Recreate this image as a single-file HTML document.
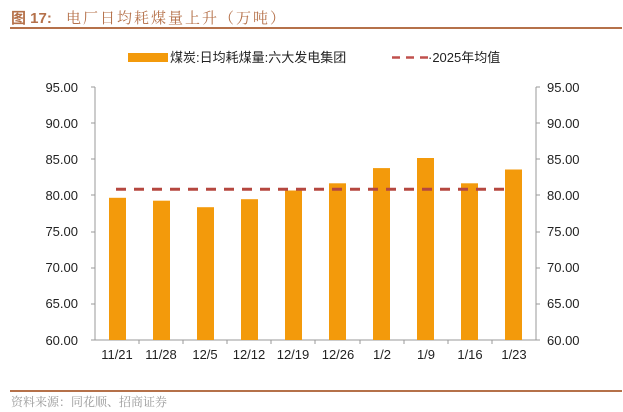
<!DOCTYPE html>
<html><head><meta charset="utf-8"><style>
body{margin:0;background:#fff;}
svg{display:block;font-family:"Liberation Sans","Noto Sans CJK SC",sans-serif;}
</style></head><body>
<svg width="623" height="412" xmlns="http://www.w3.org/2000/svg">
<text x="11" y="23" font-size="15" fill="#b5714a" font-weight="bold" font-family="'Liberation Sans','Noto Sans CJK SC',sans-serif">图 17:</text>
<text x="66" y="23" font-size="15" fill="#b5714a" font-family="'Noto Serif CJK SC','Noto Sans CJK SC',sans-serif" letter-spacing="2">电厂日均耗煤量上升（万吨）</text>
<rect x="10" y="27" width="612" height="2" fill="#b5714a"/>
<rect x="128" y="53" width="40" height="9" fill="#f39a0b"/>
<text x="170" y="62" font-size="13" fill="#222">煤炭:日均耗煤量:六大发电集团</text>
<line x1="392" y1="57.5" x2="428" y2="57.5" stroke="#c0504d" stroke-width="2.5" stroke-dasharray="8,6"/>
<text x="428" y="62" font-size="13" fill="#222">·2025年均值</text>
<g font-size="13" fill="#222" text-anchor="end">
<text x="78" y="92">95.00</text><text x="78" y="128">90.00</text><text x="78" y="164">85.00</text><text x="78" y="200">80.00</text><text x="78" y="236">75.00</text><text x="78" y="272">70.00</text><text x="78" y="308">65.00</text><text x="78" y="345">60.00</text>
</g>
<g font-size="13" fill="#222" text-anchor="start">
<text x="547" y="92">95.00</text><text x="547" y="128">90.00</text><text x="547" y="164">85.00</text><text x="547" y="200">80.00</text><text x="547" y="236">75.00</text><text x="547" y="272">70.00</text><text x="547" y="308">65.00</text><text x="547" y="345">60.00</text>
</g>
<g stroke="#999" stroke-width="1">
<line x1="95" y1="87" x2="95" y2="340"/><line x1="536" y1="87" x2="536" y2="340"/>
<line x1="91" y1="340" x2="540" y2="340"/>
<path d="M91 87H95M91 123H95M91 159H95M91 195H95M91 232H95M91 268H95M91 304H95"/>
<path d="M536 87H540M536 123H540M536 159H540M536 195H540M536 232H540M536 268H540M536 304H540"/>
<path d="M139 340V344M183 340V344M227 340V344M271 340V344M315 340V344M360 340V344M404 340V344M448 340V344M492 340V344"/>
</g>
<g fill="#f39a0b">
<rect x="109" y="197.8" width="17" height="142.2"/>
<rect x="153" y="200.7" width="17" height="139.3"/>
<rect x="197" y="207.2" width="17" height="132.8"/>
<rect x="241" y="199.2" width="17" height="140.8"/>
<rect x="285" y="190.5" width="17" height="149.5"/>
<rect x="329" y="183.3" width="17" height="156.7"/>
<rect x="373" y="168.1" width="17" height="171.9"/>
<rect x="417" y="158" width="17" height="182"/>
<rect x="461" y="183.3" width="17" height="156.7"/>
<rect x="505" y="169.5" width="17" height="170.5"/>
</g>
<line x1="116" y1="189.3" x2="511" y2="189.3" stroke="#b5473f" stroke-width="3" stroke-dasharray="10,8"/>
<g font-size="13" fill="#222" text-anchor="middle">
<text x="117" y="359">11/21</text><text x="161" y="359">11/28</text><text x="205" y="359">12/5</text><text x="249" y="359">12/12</text><text x="293" y="359">12/19</text><text x="338" y="359">12/26</text><text x="382" y="359">1/2</text><text x="426" y="359">1/9</text><text x="470" y="359">1/16</text><text x="514" y="359">1/23</text>
</g>
<rect x="10" y="390" width="612" height="2" fill="#b5714a"/>
<text x="11" y="406" font-size="12" fill="#999" font-family="'Noto Serif CJK SC','Noto Sans CJK SC',sans-serif">资料来源：同花顺、招商证券</text>
</svg>
</body></html>
